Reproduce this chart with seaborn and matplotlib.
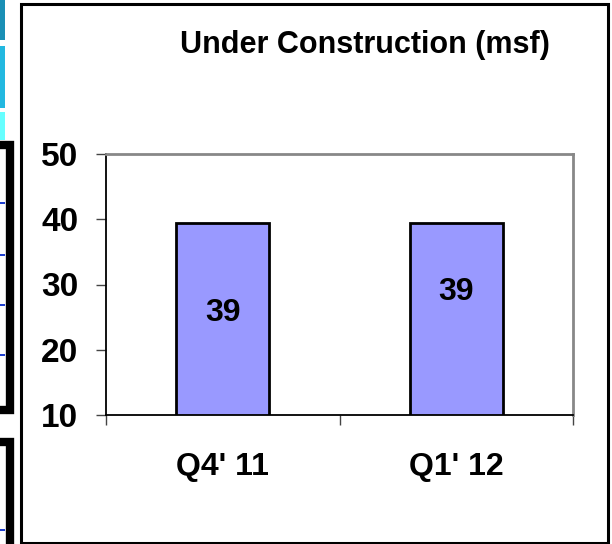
import matplotlib
matplotlib.use("Agg")
import matplotlib.pyplot as plt
import matplotlib.patches as mpatches
import seaborn as sns

quarters = ["Q4' 11", "Q1' 12"]
values = [39.4, 39.4]
label_pos = [25.7, 28.8]  # where the value labels sit inside the bars
title = "Under Construction (msf)"
y_ticks = [10, 20, 30, 40, 50]

sns.set_style("white")
plt.rcParams['font.family'] = ['Liberation Sans', 'DejaVu Sans']
plt.rcParams['font.weight'] = 'bold'
plt.rcParams['text.color'] = 'black'
plt.rcParams['xtick.labelcolor'] = 'black'
plt.rcParams['ytick.labelcolor'] = 'black'

fig = plt.figure(figsize=(6.12, 5.44), dpi=100)
W, H = 612, 544

def fr(x0, y0, x1, y1):
    # pixel box -> figure fraction rectangle
    return (x0 / W, 1 - y1 / H), (x1 - x0) / W, (y1 - y0) / H

# outer frame of the slide panel
xy, w, h = fr(21, 4, 608, 543)
fig.patches.append(mpatches.Rectangle(xy, w, h, transform=fig.transFigure,
                                      fill=False, edgecolor='black', lw=2.2))

# bits of neighbouring slide content on the left edge
for (y0, y1, c) in [(0, 40, '#1a8fb5'), (46, 108, '#22b8e0'), (112, 140, '#66ffff')]:
    xy, w, h = fr(0, y0, 5, y1)
    fig.patches.append(mpatches.Rectangle(xy, w, h, transform=fig.transFigure,
                                          color=c, lw=0))
for (y0, y1) in [(145, 410), (442, 548)]:
    xy, w, h = fr(-20, y0, 10, y1)
    fig.patches.append(mpatches.Rectangle(xy, w, h, transform=fig.transFigure,
                                          fill=False, edgecolor='black', lw=6))
for yb in [203, 255, 305, 355, 530]:
    xy, w, h = fr(0, yb - 1, 5, yb + 1)
    fig.patches.append(mpatches.Rectangle(xy, w, h, transform=fig.transFigure,
                                          color='#1f3fd0', lw=0))

ax = fig.add_axes([106 / W, 1 - 415 / H, (573 - 106) / W, (415 - 154) / H])
sns.barplot(x=quarters, y=values, color='#9999ff', saturation=1, width=0.4,
            edgecolor='black', linewidth=2, ax=ax)

ax.set_ylim(10, 50)
ax.set_xlim(-0.5, 1.5)
ax.set_yticks(y_ticks)
ax.set_yticklabels([str(t) for t in y_ticks], fontsize=24, fontweight='bold')
ax.tick_params(axis='y', direction='out', length=7, width=1, color='#444444',
               pad=13, left=True)
ax.set_xticks(range(len(quarters)))
ax.set_xticklabels(quarters, fontsize=23, fontweight='bold')
ax.tick_params(axis='x', which='major', length=0, pad=27)
ax.set_xticks([-0.5, 0.5, 1.5], minor=True)
ax.tick_params(axis='x', which='minor', direction='out', length=7, width=1,
               color='#444444', bottom=True)
ax.set_xlabel('')
ax.set_ylabel('')

for s in ['left', 'bottom']:
    ax.spines[s].set_color('black')
    ax.spines[s].set_linewidth(1.3)
for s in ['top', 'right']:
    ax.spines[s].set_color('#888888')
    ax.spines[s].set_linewidth(2)

for i, v in enumerate(values):
    ax.text(i, label_pos[i], f"{v:.0f}", ha='center', va='center',
            fontsize=23, fontweight='bold', color='black')

fig.text(365 / W, 1 - 45 / H, title, ha='center', va='center',
         fontsize=22, fontweight='bold', color='black')

fig.savefig("out.png", dpi=100)
